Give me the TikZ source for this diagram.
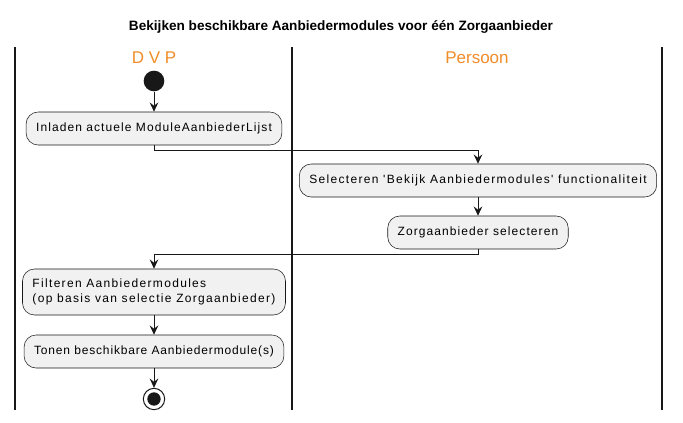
\documentclass[tikz,border=0pt]{standalone}
\usepackage{fontspec}
\setmainfont{Liberation Sans}
\newfontfamily\actfont[LetterSpace=9]{Liberation Sans}
\newfontfamily\actfontwide[LetterSpace=11]{Liberation Sans}
\newfontfamily\actfontnarrow[LetterSpace=7]{Liberation Sans}
\usetikzlibrary{arrows.meta}
\definecolor{lanecol}{RGB}{240,140,40}
\definecolor{actfill}{RGB}{241,241,241}
\definecolor{linecol}{RGB}{24,24,24}

\begin{document}
\begin{tikzpicture}[x=0.75pt, y=-0.75pt, >={Stealth[length=7pt, width=6.5pt, inset=2.5pt]},
  act/.style={draw=linecol, fill=actfill, rounded corners=9pt, minimum height=24.75pt, inner xsep=7.5pt, font=\actfont\fontsize{9}{11.25}\selectfont},
  actwide/.style={act, font=\actfontwide\fontsize{9}{11.25}\selectfont},
  actnarrow/.style={act, font=\actfontnarrow\fontsize{9}{11.25}\selectfont},
  lane/.style={draw=linecol, line width=1.5pt},
  flow/.style={draw=linecol, ->, line width=0.75pt},
  lanehead/.style={text=lanecol, font=\fontsize{12.75}{15}\selectfont}]
\useasboundingbox (0,0) rectangle (683,422);
\node[font=\bfseries\fontsize{10.2}{12}\selectfont] (title) at (341,27) {Bekijken beschikbare Aanbiedermodules voor één Zorgaanbieder};
% swimlanes
\draw[lane] (15,47) -- (15,410);
\draw[lane] (292,47) -- (292,410);
\draw[lane] (662,47) -- (662,410);
\node[lanehead] (dvp) at (154,58) {D V P};
\node[lanehead] (persoon) at (477,58) {Persoon};
% activities
\node[circle, fill=linecol, minimum size=15.5pt, inner sep=0pt] (start) at (154,81) {};
\node[act] (inladen) at (154,128.5) {Inladen actuele ModuleAanbiederLijst};
\node[actwide] (selecteren) at (478,180.5) {Selecteren 'Bekijk Aanbiedermodules' functionaliteit};
\node[act] (zorg) at (478,232.5) {Zorgaanbieder selecteren};
\node[actwide, align=left, minimum height=34.5pt] (filteren) at (154,292) {Filteren Aanbiedermodules\\(op basis van selectie Zorgaanbieder)};
\node[actnarrow] (tonen) at (154,351.5) {Tonen beschikbare Aanbiedermodule(s)};
\node[circle, draw=linecol, line width=0.75pt, minimum size=16pt, inner sep=0pt,
  path picture={\fill[linecol] (path picture bounding box.center) circle (5pt);}] (stop) at (154,399) {};
% flows
\draw[flow] (start) -- (inladen);
\draw[flow] (inladen.south) -- ++(0,5) -| (selecteren.north);
\draw[flow] (selecteren) -- (zorg);
\draw[flow] (zorg.south) -- ++(0,5) -| (filteren.north);
\draw[flow] (filteren) -- (tonen);
\draw[flow] (tonen) -- (stop);
\end{tikzpicture}
\end{document}
